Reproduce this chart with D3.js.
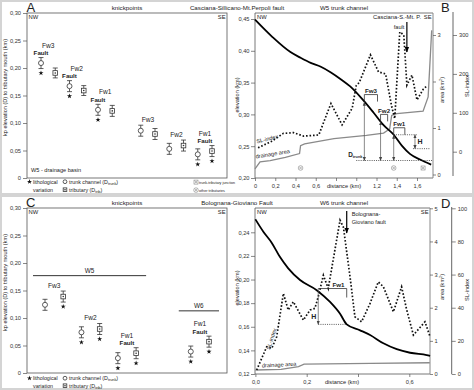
<!DOCTYPE html>
<html>
<head>
<meta charset="utf-8">
<script src="https://cdn.jsdelivr.net/npm/d3@7"></script>
<style>
  body { margin: 0; background: #fff; }
  svg text { font-family: "Liberation Sans", Arial, sans-serif; }
</style>
</head>
<body>
<div id="chart"></div>
<script>
// ---------- A : W5 knickpoints, trunk channel / tributary pairs, NW -> SE ----------
var kpA_slot = [0, 1, 2, 3, 4, 5, 7, 8, 9, 10, 11, 12];
var kpA_kind = ["trunk", "trib", "trunk", "trib", "trunk", "trib", "trunk", "trib", "trunk", "trib", "trunk", "trib"];
var kpA_elev = [0.209, 0.191, 0.167, 0.159, 0.124, 0.122, 0.086, 0.080, 0.053, 0.059, 0.043, 0.049];
var kpA_err  = [0.010, 0.009, 0.010, 0.009, 0.010, 0.010, 0.010, 0.010, 0.010, 0.010, 0.010, 0.010];
var kpA_lith = [1, 0, 1, 0, 1, 0, 0, 0, 0, 0, 1, 1];
var grpA_name  = ["Fw3", "Fw2", "Fw1", "Fw3", "Fw2", "Fw1"];
var grpA_fault = ["trunk", "trunk", "trunk", "", "", "pair"];

// ---------- C : W5 and W6 knickpoints ----------
var kpC_slot = [0, 1, 2, 3, 4, 5, 8, 9];
var kpC_kind = ["trunk", "trib", "trunk", "trib", "trunk", "trib", "trunk", "trib"];
var kpC_elev = [0.124, 0.139, 0.074, 0.080, 0.027, 0.036, 0.039, 0.057];
var kpC_err  = [0.010, 0.010, 0.010, 0.010, 0.010, 0.010, 0.010, 0.010];
var kpC_lith = [0, 1, 1, 1, 1, 1, 1, 1];
var grpC_name  = ["Fw3", "Fw2", "Fw1", "Fw1"];
var grpC_fault = ["", "", "pair", "pair"];
var basin_name  = ["W5", "W6"];
var basin_from  = [0, 6];
var basin_to    = [5, 7];
var basin_level = [0.177, 0.113];

// ---------- B : W5 trunk channel ----------
var w5_elev_km = [0, 0.17, 0.35, 0.45, 0.55, 0.65, 0.75, 0.85, 0.94, 1.06, 1.17, 1.27, 1.37, 1.45, 1.53, 1.63, 1.74];
var w5_elev    = [0.449, 0.422, 0.398, 0.389, 0.381, 0.375, 0.366, 0.355, 0.344, 0.324, 0.303, 0.283, 0.268, 0.251, 0.238, 0.229, 0.221];
var w5_sl_km = [0.03, 0.16, 0.28, 0.38, 0.48, 0.63, 0.75, 0.86, 0.96, 1.00, 1.03, 1.14, 1.22, 1.29, 1.35, 1.38, 1.43, 1.47, 1.50, 1.55, 1.60, 1.66, 1.70];
var w5_sl    = [10, 26, 47, 49, 40, 43, 124, 69, 112, 170, 178, 249, 205, 200, 116, 85, 308, 300, 171, 197, 133, 160, 170];
var w5_area_km = [0, 0.05, 0.15, 0.30, 0.44, 0.45, 0.49, 0.78, 1.10, 1.27, 1.33, 1.35, 1.40, 1.66, 1.71, 1.745];
var w5_area    = [0.12, 0.27, 0.30, 0.37, 0.45, 0.62, 0.66, 0.77, 0.84, 0.89, 0.98, 1.27, 1.31, 1.36, 1.67, 3.10];
var w5_kp_name = ["Fw3", "Fw2", "Fw1"];
var w5_kp_from = [1.08, 1.24, 1.37];
var w5_kp_to   = [1.21, 1.31, 1.48];
var w5_mouth   = 0.2275;
var w5_fault_km = 1.50;
var w5_junc_km   = [0.45, 1.37, 1.66];
var w5_junc_kind = ["other", "other", "trunk"];

// ---------- D : W6 trunk channel ----------
var w6_elev_km = [0, 0.031, 0.064, 0.096, 0.128, 0.174, 0.239, 0.291, 0.33, 0.356, 0.408, 0.447, 0.499, 0.551, 0.603, 0.668, 0.681];
var w6_elev    = [0.251, 0.2405, 0.231, 0.219, 0.2095, 0.1996, 0.191, 0.181, 0.171, 0.162, 0.157, 0.153, 0.146, 0.141, 0.138, 0.136, 0.1354];
var w6_sl_km = [0.005, 0.044, 0.064, 0.083, 0.109, 0.128, 0.148, 0.187, 0.213, 0.232, 0.245, 0.265, 0.284, 0.33, 0.343, 0.369, 0.388, 0.414, 0.447, 0.479, 0.499, 0.538, 0.570, 0.590, 0.616, 0.661, 0.681];
var w6_sl    = [2.4, 16.4, 15.5, 22.5, 48.6, 38.6, 43.6, 32.5, 38.6, 39.6, 46.6, 59.6, 51.6, 92.8, 88.7, 58.6, 34.5, 31.5, 42.6, 55.6, 52.6, 37.5, 52.6, 38.6, 23.5, 31.5, 22.5];
var w6_area_km = [0, 0.10, 0.168, 0.19, 0.45, 0.68];
var w6_area    = [0.12, 0.14, 0.22, 0.30, 0.32, 0.34];
var w6_kp_name = ["Fw1"];
var w6_kp_from = [0.245];
var w6_kp_to   = [0.356];
var w6_fault_km = 0.356;

// ---------- page ----------
var W = 474, H = 390;
var svg = d3.select("#chart").append("svg").attr("width", W).attr("height", H);

svg.append("rect").attr("width", W).attr("height", H).attr("fill", "#d4d4d4");
svg.append("rect").attr("x", 2).attr("y", 2).attr("width", W - 4).attr("height", 191).attr("fill", "#fff");
svg.append("rect").attr("x", 2).attr("y", 197).attr("width", W - 4).attr("height", 191).attr("fill", "#fff");

var defs = svg.append("defs");
function arrowHead(id, color, size) {
    defs.append("marker").attr("id", id)
        .attr("viewBox", "0 0 10 10").attr("refX", 9).attr("refY", 5)
        .attr("markerWidth", size).attr("markerHeight", size)
        .attr("markerUnits", "userSpaceOnUse")
        .attr("orient", "auto-start-reverse")
        .append("path").attr("d", "M0,1L10,5L0,9Z").attr("fill", color);
}
arrowHead("ahGray", "#444", 4);
arrowHead("ahBlack", "#000", 6);

function comma(f) {
    return function(d) { return d3.format(f)(d).replace(".", ","); };
}

function label(g, x, y, s, size, anchor, weight, fill) {
    return g.append("text").attr("x", x).attr("y", y)
        .attr("font-size", size)
        .attr("text-anchor", anchor || "start")
        .attr("font-weight", weight || "normal")
        .attr("fill", fill || "#222")
        .text(s);
}

function vlabel(g, x, y, s, size) {
    return g.append("text")
        .attr("transform", "translate(" + x + "," + y + ") rotate(-90)")
        .attr("font-size", size).attr("text-anchor", "middle").attr("fill", "#222")
        .text(s);
}

function styleAxis(a) {
    a.select(".domain").remove();
    a.selectAll(".tick line").attr("stroke", "#555").attr("stroke-width", 0.7);
    a.selectAll(".tick text").attr("font-size", 5.7).attr("fill", "#333");
}

function trunkMark(g, cx, cy, r) {
    g.append("circle").attr("cx", cx).attr("cy", cy).attr("r", r)
        .attr("fill", "#fff").attr("stroke", "#333").attr("stroke-width", 0.8);
}
function tribMark(g, cx, cy, s) {
    g.append("rect").attr("x", cx - s / 2).attr("y", cy - s / 2).attr("width", s).attr("height", s)
        .attr("fill", "#fff").attr("stroke", "#333").attr("stroke-width", 0.8);
    g.append("circle").attr("cx", cx).attr("cy", cy).attr("r", 0.8).attr("fill", "#333");
}
function starMark(g, cx, cy) {
    g.append("path").attr("transform", "translate(" + cx + "," + cy + ")")
        .attr("d", d3.symbol().type(d3.symbolStar).size(8)()).attr("fill", "#111");
}
function juncMark(g, cx, cy, kind) {
    var s = 2;
    if (kind === "trunk") {
        g.append("rect").attr("x", cx - s).attr("y", cy - s).attr("width", 2 * s).attr("height", 2 * s)
            .attr("fill", "#fff").attr("stroke", "#888").attr("stroke-width", 0.6);
    } else {
        g.append("circle").attr("cx", cx).attr("cy", cy).attr("r", s + 0.3)
            .attr("fill", "#fff").attr("stroke", "#888").attr("stroke-width", 0.6);
    }
    g.append("path").attr("d", "M" + (cx - 1.3) + "," + (cy - 1.3) + "L" + (cx + 1.3) + "," + (cy + 1.3) +
        "M" + (cx + 1.3) + "," + (cy - 1.3) + "L" + (cx - 1.3) + "," + (cy + 1.3))
        .attr("stroke", "#888").attr("stroke-width", 0.6);
}

// ---------- knickpoint panels (A, C) ----------
function kpPanel(top, bottom, nSlots, xRange, slot, kind, elev, err, lith, grpName, grpFault) {
    var left = 27, right = 227;
    var g = svg.append("g");
    var x = d3.scalePoint().domain(d3.range(nSlots)).range(xRange);
    var y = d3.scaleLinear().domain([0, 0.30]).range([bottom, top]);

    g.append("rect").attr("x", left).attr("y", top)
        .attr("width", right - left).attr("height", bottom - top)
        .attr("fill", "none").attr("stroke", "#555").attr("stroke-width", 0.8);

    var ay = g.append("g").attr("transform", "translate(" + left + ",0)")
        .call(d3.axisLeft(y).tickValues([0, 0.05, 0.10, 0.15, 0.20, 0.25, 0.30])
            .tickFormat(function(d) { return d === 0 ? "0" : comma(".2f")(d); })
            .tickSize(4).tickPadding(2));
    styleAxis(ay);
    vlabel(g, 6.5, (top + bottom) / 2 - 8, "kp elevation (D) to tributary mouth (km)", 5.6);

    label(g, left + 1.5, top + 6, "NW", 5.8);
    label(g, right - 1.5, top + 6, "SE", 5.8, "end");

    elev.forEach(function(v, i) {
        var cx = x(slot[i]), cy = y(v);
        var lo = y(v - err[i]), hi = y(v + err[i]);
        g.append("path")
            .attr("d", "M" + cx + "," + lo + "V" + hi + "M" + (cx - 2.5) + "," + lo + "H" + (cx + 2.5) +
                "M" + (cx - 2.5) + "," + hi + "H" + (cx + 2.5))
            .attr("stroke", "#333").attr("stroke-width", 0.8).attr("fill", "none");
        if (kind[i] === "trunk") trunkMark(g, cx, cy, 2.5);
        else tribMark(g, cx, cy, 4.6);
        if (lith[i]) starMark(g, cx, lo + 4.5);
    });

    grpName.forEach(function(name, k) {
        var a = 2 * k, b = 2 * k + 1;
        var mid = (x(slot[a]) + x(slot[b])) / 2;
        var capTop = Math.min(y(elev[a] + err[a]), y(elev[b] + err[b]));
        if (grpFault[k]) {
            var fx = grpFault[k] === "trunk" ? x(slot[a]) : mid;
            label(g, fx, capTop - 2.5, "Fault", 6.2, "middle", "bold");
            label(g, mid, capTop - 10, name, 6.6, "middle");
        } else {
            label(g, mid, capTop - 3.5, name, 6.6, "middle");
        }
    });
    return { g: g, x: x, y: y };
}

function kpLegend(g, y1, y2, junction) {
    var fs = 5.3;
    starMark(g, 29.5, y1 - 1.8);
    label(g, 33, y1, "lithological", fs);
    label(g, 33, y2, "variation", fs);
    trunkMark(g, 65, y1 - 1.8, 1.9);
    var t = label(g, 69, y1, "trunk channel (D", fs);
    t.append("tspan").attr("font-size", 3.8).attr("dy", 1.3).text("trunk");
    t.append("tspan").attr("dy", -1.3).text(")");
    tribMark(g, 65, y2 - 1.8, 3.6);
    var t2 = label(g, 69, y2, "tributary (D", fs);
    t2.append("tspan").attr("font-size", 3.8).attr("dy", 1.3).text("trib");
    t2.append("tspan").attr("dy", -1.3).text(")");
    if (junction) {
        juncMark(g, 196, y1 - 1.4, "trunk");
        label(g, 199, y1 + 0.5, "trunk-tributary junction", 4.3)
            .attr("textLength", 36).attr("lengthAdjust", "spacingAndGlyphs");
        juncMark(g, 196, y2 - 1.4, "other");
        label(g, 199, y2, "other tributaries", 4.3)
            .attr("textLength", 26).attr("lengthAdjust", "spacingAndGlyphs");
    }
}

var pA = kpPanel(13, 178, 13, [41, 212], kpA_slot, kpA_kind, kpA_elev, kpA_err, kpA_lith, grpA_name, grpA_fault);
label(pA.g, 31, 172, "W5 - drainage basin", 5.6);
kpLegend(pA.g, 183.5, 191.5, true);

var pC = kpPanel(208, 373, 10, [45, 209], kpC_slot, kpC_kind, kpC_elev, kpC_err, kpC_lith, grpC_name, grpC_fault);
basin_name.forEach(function(n, i) {
    var x0 = pC.x(kpC_slot[basin_from[i]]) - 12, x1 = pC.x(kpC_slot[basin_to[i]]) + 10;
    var yy = pC.y(basin_level[i]);
    pC.g.append("line").attr("x1", x0).attr("x2", x1).attr("y1", yy).attr("y2", yy)
        .attr("stroke", "#333").attr("stroke-width", 1);
    label(pC.g, (x0 + x1) / 2, yy - 2.5, n, 6.4, "middle");
});
kpLegend(pC.g, 380, 387.5, false);

// ---------- longitudinal profile panels (B, D) ----------
function profilePanel(p) {
    var g = svg.append("g");
    var x = d3.scaleLinear().domain(p.xDom).range(p.xPx);
    var y = d3.scaleLinear().domain(p.yDom).range(p.yPx);
    var yA = d3.scaleLinear().domain(p.areaDom).range(p.areaPx);
    var yS = d3.scaleLinear().domain(p.slDom).range(p.slPx);
    var L = p.left, R = p.right, T = p.top, B = p.bottom;

    g.append("path").attr("d", "M" + R + "," + B + "H" + L + "V" + T + "H" + R)
        .attr("fill", "none").attr("stroke", "#555").attr("stroke-width", 0.8);
    g.append("line").attr("x1", R).attr("x2", R).attr("y1", T).attr("y2", B)
        .attr("stroke", "#888").attr("stroke-width", 1);

    var ax = g.append("g").attr("transform", "translate(0," + B + ")")
        .call(d3.axisBottom(x).tickValues(p.xTicks).tickFormat(p.xFmt).tickSize(3).tickPadding(3));
    styleAxis(ax);
    var ay = g.append("g").attr("transform", "translate(" + L + ",0)")
        .call(d3.axisLeft(y).tickValues(p.yTicks).tickFormat(comma(".2f")).tickSize(4).tickPadding(1.5));
    styleAxis(ay);
    var aa = g.append("g").attr("transform", "translate(" + R + ",0)")
        .call(d3.axisRight(yA).tickValues(p.areaTicks).tickFormat(p.areaFmt).tickSize(3).tickPadding(1.5));
    styleAxis(aa);
    g.append("line").attr("x1", p.slX).attr("x2", p.slX).attr("y1", p.slTop).attr("y2", p.slBot)
        .attr("stroke", "#555").attr("stroke-width", 0.9);
    var as = g.append("g").attr("transform", "translate(" + p.slX + ",0)")
        .call(d3.axisRight(yS).tickValues(p.slTicks).tickSize(4).tickPadding(2));
    styleAxis(as);

    label(g, p.distX, B + 10, "distance (km)", 5.7, "middle");
    vlabel(g, 239, p.elevTitleY, "elevation (km)", 5.6);
    var at = vlabel(g, 444, p.areaTitleY, "area (km", 5.6);
    at.append("tspan").attr("font-size", 3.8).attr("dy", -2).text("2");
    at.append("tspan").attr("dy", 2).text(")");
    vlabel(g, 469, p.slTitleY, "SL-index", 5.6);

    label(g, L + 2, T + 6, "NW", 5.8);
    label(g, R - 1.5, T + 6, "SE", 5.8, "end");

    var area = d3.line().x(function(i) { return x(p.areaKm[i]); }).y(function(i) { return yA(p.area[i]); });
    g.append("path").attr("d", area(d3.range(p.area.length)))
        .attr("fill", "none").attr("stroke", "#8a8a8a").attr("stroke-width", 1.3);

    var sl = d3.line().x(function(i) { return x(p.slKm[i]); }).y(function(i) { return yS(p.sl[i]); });
    g.append("path").attr("d", sl(d3.range(p.sl.length)))
        .attr("fill", "none").attr("stroke", "#111").attr("stroke-width", 1.7)
        .attr("stroke-dasharray", "1.6 1.9");

    var el = d3.line().curve(d3.curveMonotoneX)
        .x(function(i) { return x(p.elevKm[i]); }).y(function(i) { return y(p.elev[i]); });
    g.append("path").attr("d", el(d3.range(p.elev.length)))
        .attr("fill", "none").attr("stroke", "#000").attr("stroke-width", 1.8);

    var elevAt = d3.scaleLinear().domain(p.elevKm).range(p.elev);
    return { g: g, x: x, y: y, yA: yA, yS: yS, elevAt: elevAt };
}

var pB = profilePanel({
    left: 255, right: 433, top: 13, bottom: 178,
    xDom: [0, 1.6], xPx: [255, 417],
    yDom: [0.20, 0.45], yPx: [178, 19],
    areaDom: [0, 3], areaPx: [174.5, 35],
    slDom: [0, 300], slPx: [151.7, 35],
    slX: 453, slTop: 12, slBot: 176,
    xTicks: [0, 0.2, 0.4, 0.6, 0.8, 1.0, 1.2, 1.4, 1.6],
    xFmt: function(d) { return d === 0 ? "0" : (d > 0.7 && d < 1.1 ? "" : comma(".1f")(d)); },
    yTicks: [0.20, 0.25, 0.30, 0.35, 0.40, 0.45],
    areaTicks: [0, 1, 2, 3], areaFmt: function(d) { return d === 2 ? "" : d; },
    slTicks: [0, 100, 200, 300],
    distX: 344, elevTitleY: 95, areaTitleY: 90, slTitleY: 86,
    elevKm: w5_elev_km, elev: w5_elev, slKm: w5_sl_km, sl: w5_sl, areaKm: w5_area_km, area: w5_area
});

var pD = profilePanel({
    left: 255, right: 430, top: 208, bottom: 374,
    xDom: [0, 0.6], xPx: [255.4, 409.3],
    yDom: [0.12, 0.24], yPx: [374, 232.3],
    areaDom: [0, 5], areaPx: [374, 208.3],
    slDom: [0, 100], slPx: [374, 208.3],
    slX: 451.7, slTop: 207, slBot: 374,
    xTicks: [0, 0.2, 0.4, 0.6],
    xFmt: function(d) { return d === 0.4 ? "" : comma(".1f")(d); },
    yTicks: [0.12, 0.14, 0.16, 0.18, 0.20, 0.22, 0.24],
    areaTicks: [0, 1, 2, 3, 4, 5], areaFmt: function(d) { return d; },
    slTicks: [0, 20, 40, 60, 80, 100],
    distX: 342, elevTitleY: 288, areaTitleY: 287, slTitleY: 290,
    elevKm: w6_elev_km, elev: w6_elev, slKm: w6_sl_km, sl: w6_sl, areaKm: w6_area_km, area: w6_area
});

// ---------- B annotations ----------
(function() {
    var g = pB.g, x = pB.x, y = pB.y;
    var yb = y(w5_mouth);
    g.append("line").attr("x1", x(1.0)).attr("x2", pB.x.range()[1] + 16).attr("y1", yb).attr("y2", yb)
        .attr("stroke", "#333").attr("stroke-width", 0.8).attr("stroke-dasharray", "1 1.2");
    w5_kp_name.forEach(function(n, i) {
        var x0 = x(w5_kp_from[i]), x1 = x(w5_kp_to[i]);
        var yk = y(pB.elevAt(w5_kp_from[i]));
        var yt = yk - 7;
        g.append("path").attr("d", "M" + x0 + "," + yk + "V" + yt + "H" + x1 + "V" + yk)
            .attr("fill", "none").attr("stroke", "#333").attr("stroke-width", 0.8);
        label(g, (x0 + x1) / 2, yt - 1.5, n, 6.2, "middle", "bold");
        g.append("line").attr("x1", x0).attr("x2", x0).attr("y1", yk + 0.5).attr("y2", yb)
            .attr("stroke", "#555").attr("stroke-width", 0.7)
            .attr("marker-start", "url(#ahGray)").attr("marker-end", "url(#ahGray)");
    });
    var t = label(g, x(w5_kp_from[0]) - 2, yb - 4, "", 6.4, "end", "bold");
    t.append("tspan").text("D");
    t.append("tspan").attr("font-size", 3.8).attr("dy", 1.5).text("trunk");
    // H on the last knickpoint
    var k = w5_kp_name.length - 1;
    var xk = x(w5_kp_from[k]), xh = x(w5_kp_to[k] + 0.1);
    var yh0 = y(pB.elevAt(w5_kp_from[k])), yh1 = y(pB.elevAt(w5_kp_to[k]));
    g.append("path").attr("d", "M" + xk + "," + yh0 + "H" + (xh + 2) + "M" + (xh - 2) + "," + yh1 + "H" + (xh + 15))
        .attr("stroke", "#333").attr("stroke-width", 0.8).attr("stroke-dasharray", "1 1.2");
    g.append("line").attr("x1", xh).attr("x2", xh).attr("y1", yh0).attr("y2", yh1)
        .attr("stroke", "#555").attr("stroke-width", 0.7)
        .attr("marker-start", "url(#ahGray)").attr("marker-end", "url(#ahGray)");
    label(g, xh + 2.5, (yh0 + yh1) / 2 + 2.5, "H", 7, "start", "bold");
    // fault
    var xf = x(w5_fault_km);
    g.append("line").attr("x1", xf).attr("x2", xf).attr("y1", 22).attr("y2", 52)
        .attr("stroke", "#000").attr("stroke-width", 1.2).attr("marker-end", "url(#ahBlack)");
    label(g, 421, 19, "Casciana-S.-Mt. P.", 5.8, "end");
    label(g, xf - 2.5, 28.5, "fault", 5.6, "end");
    // junctions
    w5_junc_km.forEach(function(d, i) { juncMark(g, x(d), 168, w5_junc_kind[i]); });
    label(g, 257, 143.5, "SL-index", 5.6).attr("transform", "rotate(-14,257,143.5)");
    label(g, 256, 158.5, "drainage area", 5.6).attr("transform", "rotate(-9,256,158.5)");
})();

// ---------- D annotations ----------
(function() {
    var g = pD.g, x = pD.x, y = pD.y;
    var x0 = x(w6_kp_from[0]), x1 = x(w6_kp_to[0]);
    var yt = y(pD.elevAt(w6_kp_from[0])) - 3;
    var ye = y(pD.elevAt(w6_kp_to[0]));
    g.append("path").attr("d", "M" + x0 + "," + yt + "H" + x1 + "V" + (yt + 9))
        .attr("fill", "none").attr("stroke", "#333").attr("stroke-width", 0.8);
    label(g, (x0 + x1) / 2 + 6, yt - 1.8, w6_kp_name[0], 6.2, "middle", "bold");
    g.append("line").attr("x1", x0).attr("x2", x0).attr("y1", yt).attr("y2", ye)
        .attr("stroke", "#555").attr("stroke-width", 0.7).attr("marker-end", "url(#ahGray)");
    g.append("line").attr("x1", x0).attr("x2", x1).attr("y1", ye).attr("y2", ye)
        .attr("stroke", "#333").attr("stroke-width", 0.8).attr("stroke-dasharray", "1 1.2");
    label(g, x0 - 2, ye - 5, "H", 7, "end", "bold");
    var xf = x(w6_fault_km);
    g.append("line").attr("x1", xf).attr("x2", xf).attr("y1", 211).attr("y2", 233)
        .attr("stroke", "#000").attr("stroke-width", 1.2).attr("marker-end", "url(#ahBlack)");
    label(g, xf + 5, 215.5, "Bolognana-", 5.6);
    label(g, xf + 5, 224, "Gioviano fault", 5.6);
    label(g, 262, 367.5, "drainage area", 5.6).attr("transform", "rotate(-3,262,367.5)");
    label(g, 270, 350, "SL-index", 5.6).attr("transform", "rotate(-72,270,350)");
})();

// ---------- headers ----------
label(svg, 26.5, 11.8, "A", 13);
label(svg, 441, 12, "B", 13);
label(svg, 26, 206.8, "C", 13);
label(svg, 441, 208, "D", 13);
label(svg, 127, 9.5, "knickpoints", 6.2, "middle");
label(svg, 237, 9.5, "Casciana-Sillicano-Mt.Perpoli fault", 6.2, "middle");
label(svg, 344, 9.5, "W5 trunk channel", 6.2, "middle");
label(svg, 127, 205, "knickpoints", 6.2, "middle");
label(svg, 237, 205, "Bolognana-Gioviano Fault", 6.2, "middle");
label(svg, 344, 205, "W6 trunk channel", 6.2, "middle");
</script>
</body>
</html>
